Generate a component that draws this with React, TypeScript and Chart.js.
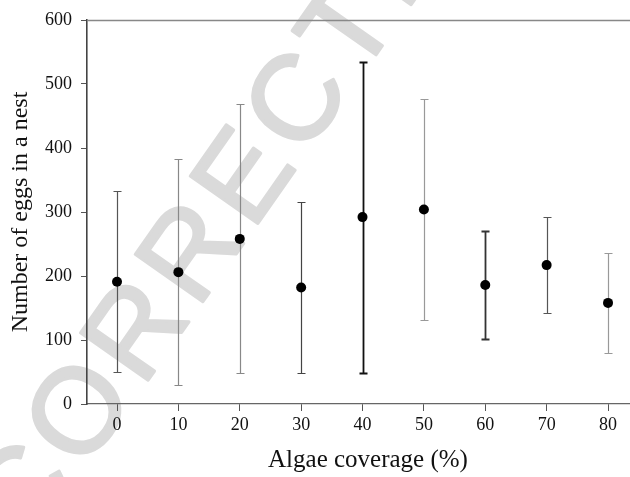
import React, { useEffect, useRef } from "react";
import { Chart, registerables } from "chart.js";

Chart.register(...registerables);

// ---- data ----
const coverage = [0, 10, 20, 30, 40, 50, 60, 70, 80];
const meanEggs = [191, 206, 258, 182, 292, 304, 186, 217, 158];
const upperEggs = [333, 383, 468, 316, 534, 476, 270, 292, 236];
const lowerEggs = [50, 29, 48, 48, 49, 132, 102, 142, 79];
const xTickValues = [0, 10, 20, 30, 40, 50, 60, 70, 80];
const yTickValues = [0, 100, 200, 300, 400, 500, 600];
const xTitle = "Algae coverage (%)";
const yTitle = "Number of eggs in a nest";
const watermark = "CORRECTED";

// ---- styles ----
const SERIF = "'Liberation Serif', 'Times New Roman', serif";
const barColors = ["#555", "#888", "#888", "#444", "#111", "#999", "#333", "#555", "#999"];
const barWidths = [1.2, 1.2, 1.2, 1.2, 1.8, 1.2, 1.8, 1.2, 1.2];

const watermarkPlugin = {
  id: "watermark",
  beforeDraw(chart: any) {
    const { ctx } = chart;
    const size = 120;
    const spacing = 9;
    const angle = (-55 * Math.PI) / 180;
    ctx.save();
    ctx.font = `${size}px 'Liberation Sans', Arial, sans-serif`;
    ctx.fillStyle = "#dadada";
    ctx.strokeStyle = "#dadada";
    ctx.lineWidth = 3;
    ctx.lineJoin = "round";
    ctx.textAlign = "left";
    ctx.textBaseline = "alphabetic";
    // anchor: centre of the 5th letter ("E")
    const anchorX = 240;
    const anchorY = 174;
    const chars = watermark.split("");
    const widths = chars.map((ch) => ctx.measureText(ch).width);
    let offset = 0;
    for (let i = 0; i < 4; i++) offset += widths[i] + spacing;
    offset += widths[4] / 2;
    ctx.translate(anchorX, anchorY);
    ctx.rotate(angle);
    ctx.translate(-offset, size * 0.358);
    let pos = 0;
    chars.forEach((ch, i) => {
      ctx.fillText(ch, pos, 0);
      ctx.strokeText(ch, pos, 0);
      pos += widths[i] + spacing;
    });
    ctx.restore();
  },
};

const errorBarPlugin = {
  id: "errorBars",
  beforeDatasetsDraw(chart: any) {
    const { ctx } = chart;
    const x = chart.scales.x;
    const y = chart.scales.y;
    ctx.save();
    coverage.forEach((c, i) => {
      const px = Math.round(x.getPixelForValue(c)) + 0.5;
      const top = Math.round(y.getPixelForValue(upperEggs[i])) + 0.5;
      const bot = Math.round(y.getPixelForValue(lowerEggs[i])) + 0.5;
      ctx.strokeStyle = barColors[i];
      ctx.lineWidth = barWidths[i];
      ctx.beginPath();
      ctx.moveTo(px, top);
      ctx.lineTo(px, bot);
      ctx.moveTo(px - 4, top);
      ctx.lineTo(px + 4, top);
      ctx.moveTo(px - 4, bot);
      ctx.lineTo(px + 4, bot);
      ctx.stroke();
    });
    ctx.restore();
  },
};

const framePlugin = {
  id: "frame",
  afterDraw(chart: any) {
    const { ctx, chartArea } = chart;
    ctx.save();
    // top frame line
    ctx.strokeStyle = "#888";
    ctx.lineWidth = 1.5;
    ctx.beginPath();
    ctx.moveTo(chartArea.left, chartArea.top + 0.5);
    ctx.lineTo(chartArea.right, chartArea.top + 0.5);
    ctx.stroke();
    // axis titles
    ctx.fillStyle = "#111";
    ctx.textAlign = "center";
    ctx.textBaseline = "middle";
    ctx.font = `25px ${SERIF}`;
    ctx.fillText(xTitle, 368, 460);
    ctx.font = `24px ${SERIF}`;
    ctx.translate(21, (chartArea.top + chartArea.bottom) / 2);
    ctx.rotate(-Math.PI / 2);
    ctx.fillText(yTitle, 0, 0);
    ctx.restore();
  },
};

export default function App() {
  const canvasRef = useRef<HTMLCanvasElement | null>(null);

  useEffect(() => {
    if (!canvasRef.current) return;
    const chart = new Chart(canvasRef.current, {
      type: "scatter",
      data: {
        datasets: [
          {
            data: coverage.map((c, i) => ({ x: c, y: meanEggs[i] })),
            backgroundColor: "#000",
            borderColor: "#000",
            borderWidth: 0,
            pointRadius: 5,
            pointHoverRadius: 5,
          },
        ],
      },
      options: {
        animation: false,
        responsive: true,
        maintainAspectRatio: false,
        layout: { autoPadding: false, padding: { top: 20, right: 0, left: 0, bottom: 0 } },
        plugins: {
          legend: { display: false },
          tooltip: { enabled: false },
          title: { display: false },
        },
        scales: {
          x: {
            type: "linear",
            min: -4.89,
            max: 83.58,
            afterBuildTicks: (scale: any) => {
              scale.ticks = xTickValues.map((v) => ({ value: v }));
            },
            afterFit: (scale: any) => {
              scale.height = 73;
              scale.paddingLeft = 0;
              scale.paddingRight = 0;
            },
            grid: {
              display: true,
              drawOnChartArea: false,
              drawTicks: true,
              tickLength: 7,
              color: "#555",
              lineWidth: 1,
            },
            border: { display: true, color: "#666", width: 1.2 },
            ticks: {
              padding: 3,
              color: "#111",
              font: { family: SERIF, size: 18 },
              maxRotation: 0,
              autoSkip: false,
            },
          },
          y: {
            type: "linear",
            min: 0,
            max: 600,
            afterBuildTicks: (scale: any) => {
              scale.ticks = yTickValues.map((v) => ({ value: v }));
            },
            afterFit: (scale: any) => {
              scale.width = 87;
              scale.paddingTop = 0;
              scale.paddingBottom = 0;
            },
            grid: {
              display: true,
              drawOnChartArea: false,
              drawTicks: true,
              tickLength: 6,
              color: "#555",
              lineWidth: 1,
            },
            border: { display: true, color: "#444", width: 1.6 },
            ticks: {
              padding: 9,
              color: "#111",
              font: { family: SERIF, size: 18 },
              autoSkip: false,
            },
          },
        },
      },
      plugins: [watermarkPlugin, errorBarPlugin, framePlugin],
    } as any);
    return () => chart.destroy();
  }, []);

  return (
    <div style={{ position: "absolute", left: 0, top: 0, width: 630, height: 477, background: "#fff" }}>
      <canvas ref={canvasRef} />
    </div>
  );
}
